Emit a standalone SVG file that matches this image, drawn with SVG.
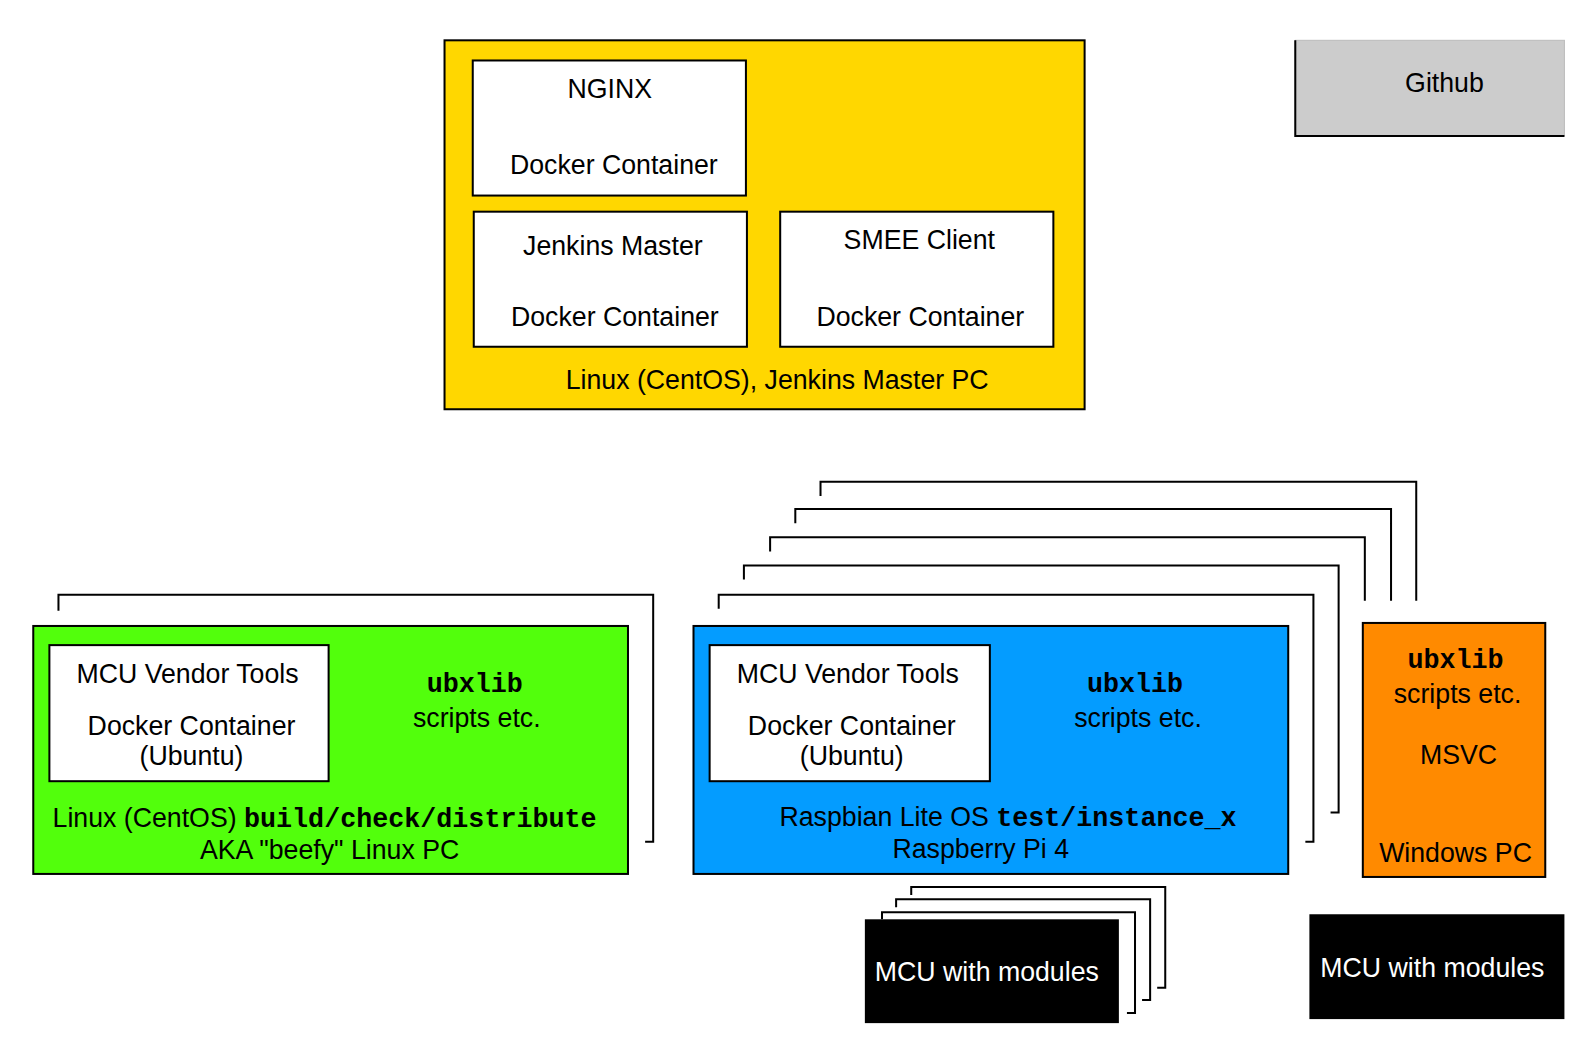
<svg xmlns="http://www.w3.org/2000/svg" width="1581" height="1060" viewBox="0 0 1581 1060">
<style>
text{font-family:"Liberation Sans",Arial,sans-serif;font-size:26.5px;fill:#000;text-anchor:middle}
.mono{font-family:"Liberation Mono","Courier New",monospace;font-weight:bold}
.box{stroke:#000;stroke-width:2}
.wb{fill:#fff;stroke:#000;stroke-width:2}
.br{fill:none;stroke:#000;stroke-width:2}
.wt{fill:#fff}
</style>
<rect width="1581" height="1060" fill="#fff"/>
<g id="diagram" transform="scale(1.008)">

<g id="connectors">
  <!-- brackets behind green box -->
  <polyline class="br" points="58,606 58,590 648,590 648,835 640,835"/>
  <!-- brackets behind blue box -->
  <polyline class="br" points="814,492 814,478 1405,478 1405,596"/>
  <polyline class="br" points="789,519 789,505 1380,505 1380,596"/>
  <polyline class="br" points="764,547 764,533 1354,533 1354,596"/>
  <polyline class="br" points="738,575 738,561 1328,561 1328,806 1320,806"/>
  <polyline class="br" points="713,604 713,590 1303,590 1303,835 1295,835"/>
  <!-- brackets behind MCU box -->
  <polyline class="br" points="904,888 904,880 1156,880 1156,980 1148,980"/>
  <polyline class="br" points="889,900 889,892 1141,892 1141,992 1133,992"/>
  <polyline class="br" points="875,912 875,905 1126,905 1126,1005 1118,1005"/>
</g>

<g id="jenkins-master-pc">
  <rect class="box" x="441" y="40" width="635" height="366" fill="#FFD700"/>
  <text x="771" y="386">Linux (CentOS), Jenkins Master PC</text>
</g>
<g id="nginx">
  <rect class="wb" x="469" y="60" width="271" height="134"/>
  <text x="605" y="97">NGINX</text>
  <text x="609" y="173">Docker Container</text>
</g>
<g id="jenkins">
  <rect class="wb" x="470" y="210" width="271" height="134"/>
  <text x="608" y="253">Jenkins Master</text>
  <text x="610" y="323">Docker Container</text>
</g>
<g id="smee">
  <rect class="wb" x="774" y="210" width="271" height="134"/>
  <text x="912" y="247">SMEE Client</text>
  <text x="913" y="323">Docker Container</text>
</g>

<g id="github">
  <rect x="1285" y="40" width="267" height="95" fill="#CCCCCC" stroke="#bbb" stroke-width="1"/>
  <polyline class="br" points="1285,40 1285,135 1552,135"/>
  <text x="1433" y="91">Github</text>
</g>

<g id="beefy-pc">
  <rect class="box" x="33" y="621" width="590" height="246" fill="#52FF0C"/>
  <rect class="wb" x="49" y="640" width="277" height="135"/>
  <text x="186" y="678">MCU Vendor Tools</text>
  <text x="190" y="729">Docker Container</text>
  <text x="190" y="759">(Ubuntu)</text>
  <text class="mono" x="471" y="687">ubxlib</text>
  <text x="473" y="721">scripts etc.</text>
  <text x="322" y="820">Linux (CentOS) <tspan class="mono">build/check/distribute</tspan></text>
  <text x="327" y="852">AKA "beefy" Linux PC</text>
</g>

<g id="raspberry-pi">
  <rect class="box" x="688" y="621" width="590" height="246" fill="#049CFF"/>
  <rect class="wb" x="704" y="640" width="278" height="135"/>
  <text x="841" y="678">MCU Vendor Tools</text>
  <text x="845" y="729">Docker Container</text>
  <text x="845" y="759">(Ubuntu)</text>
  <text class="mono" x="1126" y="687">ubxlib</text>
  <text x="1129" y="721">scripts etc.</text>
  <text x="1000" y="819">Raspbian Lite OS <tspan class="mono">test/instance_x</tspan></text>
  <text x="973" y="851">Raspberry Pi 4</text>
</g>

<g id="windows-pc">
  <rect class="box" x="1352" y="618" width="181" height="252" fill="#FF8A00"/>
  <text class="mono" x="1444" y="663">ubxlib</text>
  <text x="1446" y="697">scripts etc.</text>
  <text x="1447" y="758">MSVC</text>
  <text x="1444" y="855">Windows PC</text>
</g>

<g id="mcu-pi">
  <rect x="858" y="912" width="252" height="103" fill="#000"/>
  <text class="wt" x="979" y="973">MCU with modules</text>
</g>
<g id="mcu-win">
  <rect x="1299" y="907" width="253" height="104" fill="#000"/>
  <text class="wt" x="1421" y="969">MCU with modules</text>
</g>
</g>
</svg>
